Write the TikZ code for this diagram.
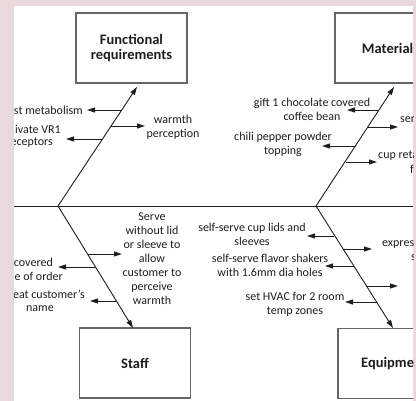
\documentclass[tikz,border=0pt]{standalone}
\usepackage{fontspec}
\setmainfont{Carlito}
\usetikzlibrary{arrows.meta}
\definecolor{pinkbg}{HTML}{E9D9DC}
\definecolor{ink}{HTML}{1E1E1E}
\definecolor{boxline}{HTML}{666666}
\begin{document}
\begin{tikzpicture}[x=1pt,y=-1pt,
  bone/.style={draw=ink, line width=0.9pt, -{Triangle[length=8pt,width=5pt]}},
  twig/.style={draw=ink, line width=0.9pt, -{Triangle[length=8pt,width=5pt]}},
  spineline/.style={draw=ink, line width=0.9pt},
  lbl/.style={font=\fontsize{12}{14}\selectfont, align=center, inner sep=0pt, text=ink},
  box/.style={draw=boxline, line width=1.1pt, fill=white, minimum width=111pt, minimum height=70pt,
    font=\bfseries\fontsize{14.5}{15.6}\selectfont, align=center, text=ink, inner sep=0pt}
]
\fill[pinkbg] (0,0) rectangle (416,401);
\fill[white] (14,6) rectangle (413,401);
\useasboundingbox (0,0) rectangle (416,401);
\begin{scope}
\clip (14,6) rectangle (413,401);
% boxes
\node[box] (fr) at (131.5,48) {Functional\\requirements};
\node[box] (mat) at (390.5,48) {Materials};
\node[box] (staff) at (135,363) {Staff};
\node[box, minimum width=120pt] (equ) at (398,363.5) {};
\node[font=\bfseries\fontsize{14.5}{15.6}\selectfont, text=ink, anchor=west, inner sep=0pt] (equt) at (361,364) {Equipme};
% spine
\coordinate (spL) at (14,206);
\coordinate (spR) at (413,206);
\draw[spineline] (spL) -- (spR);
% bone hubs and tips
\coordinate (hubL) at (58,206);
\coordinate (hubR) at (316,206);
\coordinate (tipFR) at (137,87);
\coordinate (tipMA) at (394,87);
\coordinate (tipST) at (133,328);
\coordinate (tipEQ) at (393,328);
\draw[bone] (hubL) -- (tipFR);
\draw[bone] (hubL) -- (tipST);
\draw[bone] (hubR) -- (tipMA);
\draw[bone] (hubR) -- (tipEQ);

% ---- Functional requirements branches
\node[lbl, anchor=east] (t1) at (83,110) {st metabolism};
\node[lbl] (t2) at (173,127) {warmth\\perception};
\node[lbl, anchor=east] (t3a) at (61,129) {ivate VR1};
\node[lbl, anchor=east] (t3b) at (53,143) {eceptors};
\coordinate (b1) at (121,110); \coordinate (e1) at (87,110);
\coordinate (b2) at (111,126); \coordinate (e2) at (145,126);
\coordinate (b3) at (102,139); \coordinate (e3) at (66,139);
\draw[twig] (b1) -- (e1);
\draw[twig] (b2) -- (e2);
\draw[twig] (b3) -- (e3);

% ---- Materials branches
\node[lbl] (m1) at (312,109.5) {gift 1 chocolate covered\\coffee bean};
\node[lbl, anchor=west] (m2) at (400,120) {ser};
\node[lbl] (m3) at (283,144.5) {chili pepper powder\\topping};
\node[lbl, anchor=west] (m4a) at (378,156) {cup reta};
\node[lbl, anchor=west] (m4b) at (410,169) {f};
\coordinate (c1) at (379,110); \coordinate (f1) at (347,110);
\coordinate (c2) at (368,127); \coordinate (f2) at (398,127);
\coordinate (c3) at (356,146); \coordinate (f3) at (322,146);
\coordinate (c4) at (345.5,162); \coordinate (f4) at (377,162);
\draw[twig] (c1) -- (f1);
\draw[twig] (c2) -- (f2);
\draw[twig] (c3) -- (f3);
\draw[twig] (c4) -- (f4);

% ---- Staff branches
\node[lbl] (s1) at (152,259) {Serve\\without lid\\or sleeve to\\allow\\customer to\\perceive\\warmth};
\node[lbl, anchor=east] (s2a) at (53,262) {covered};
\node[lbl, anchor=east] (s2b) at (63,276) {e of order};
\node[lbl, anchor=east] (s3a) at (85,294) {eat customer's};
\node[lbl] (s3b) at (40,309) {name};
\coordinate (g1) at (88,254); \coordinate (h1) at (122,254);
\coordinate (g2) at (95.5,267); \coordinate (h2) at (58,267);
\coordinate (g3) at (116.5,301); \coordinate (h3) at (90,301);
\draw[twig] (g1) -- (h1);
\draw[twig] (g2) -- (h2);
\draw[twig] (g3) -- (h3);

% ---- Equipment branches
\node[lbl] (q1) at (252,234.5) {self-serve cup lids and\\sleeves};
\node[lbl, anchor=west] (q2a) at (382,245) {expres};
\node[lbl, anchor=west] (q2b) at (411,258) {s};
\node[lbl] (q3) at (270,265) {self-serve flavor shakers\\with 1.6mm dia holes};
\node[lbl] (q5) at (295,304.5) {set HVAC for 2 room\\temp zones};
\coordinate (k1) at (334,236); \coordinate (l1) at (307,236);
\coordinate (k2) at (342.5,249); \coordinate (l2) at (372,249);
\coordinate (k3) at (353.5,266); \coordinate (l3) at (325,266);
\coordinate (k4) at (366,286); \coordinate (l4) at (398,286);
\coordinate (k5) at (376.5,302); \coordinate (l5) at (345,302);
\draw[twig] (k1) -- (l1);
\draw[twig] (k2) -- (l2);
\draw[twig] (k3) -- (l3);
\draw[twig] (k4) -- (l4);
\draw[twig] (k5) -- (l5);
\end{scope}
\end{tikzpicture}
\end{document}
